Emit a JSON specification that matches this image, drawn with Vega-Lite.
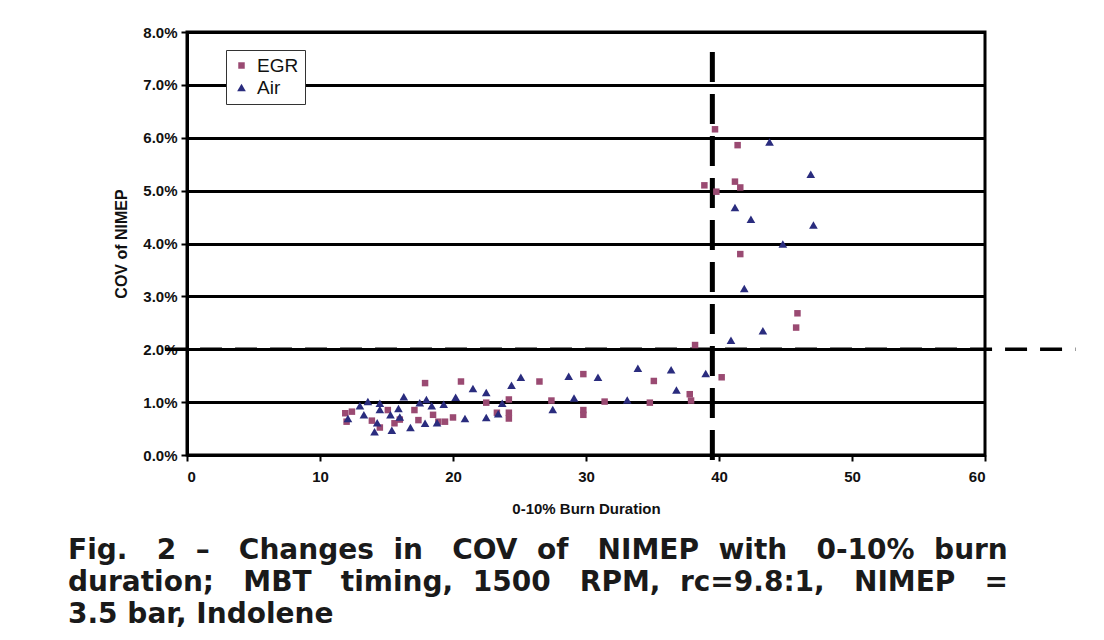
{
  "$schema": "https://vega.github.io/schema/vega-lite/v6.json",
  "autosize": "none",
  "width": 798,
  "height": 423,
  "padding": {"left": 187, "top": 32, "right": 119, "bottom": 185},
  "background": "white",
  "config": {
    "font": "Liberation Sans",
    "view": {"stroke": "black", "strokeWidth": 3},
    "axis": {"labelFont": "Liberation Sans", "titleFont": "Liberation Sans"}
  },
  "title": {
    "text": ["Fig. \u00a0\u00a02 \u00a0– \u00a0\u00a0Changes \u00a0in \u00a0\u00a0COV \u00a0of \u00a0\u00a0NIMEP \u00a0with \u00a0\u00a00-10% \u00a0burn", "duration; \u00a0\u00a0MBT \u00a0\u00a0timing, \u00a01500 \u00a0\u00a0RPM, \u00a0rc=9.8:1, \u00a0\u00a0NIMEP \u00a0\u00a0=", "3.5 bar, Indolene"],
    "orient": "bottom",
    "anchor": "start",
    "frame": "group",
    "dx": -119,
    "offset": 21,
    "font": "DejaVu Sans",
    "fontSize": 28,
    "fontWeight": "bold",
    "lineHeight": 32,
    "color": "#1a1a1a"
  },
  "datasets": {
    "pts": [
      {"series": "EGR", "dur": 11.9, "cov": 0.79},
      {"series": "EGR", "dur": 12.4, "cov": 0.82},
      {"series": "EGR", "dur": 12.0, "cov": 0.63},
      {"series": "EGR", "dur": 13.9, "cov": 0.65},
      {"series": "EGR", "dur": 14.5, "cov": 0.52},
      {"series": "EGR", "dur": 15.1, "cov": 0.85},
      {"series": "EGR", "dur": 15.6, "cov": 0.60},
      {"series": "EGR", "dur": 16.0, "cov": 0.67},
      {"series": "EGR", "dur": 17.1, "cov": 0.85},
      {"series": "EGR", "dur": 17.4, "cov": 0.66},
      {"series": "EGR", "dur": 17.9, "cov": 1.36},
      {"series": "EGR", "dur": 18.5, "cov": 0.76},
      {"series": "EGR", "dur": 18.9, "cov": 0.63},
      {"series": "EGR", "dur": 19.4, "cov": 0.63},
      {"series": "EGR", "dur": 20.0, "cov": 0.71},
      {"series": "EGR", "dur": 20.6, "cov": 1.39},
      {"series": "EGR", "dur": 22.5, "cov": 0.99},
      {"series": "EGR", "dur": 23.3, "cov": 0.80},
      {"series": "EGR", "dur": 24.2, "cov": 1.05},
      {"series": "EGR", "dur": 24.2, "cov": 0.80},
      {"series": "EGR", "dur": 24.2, "cov": 0.69},
      {"series": "EGR", "dur": 26.5, "cov": 1.39},
      {"series": "EGR", "dur": 27.4, "cov": 1.03},
      {"series": "EGR", "dur": 29.8, "cov": 1.53},
      {"series": "EGR", "dur": 29.8, "cov": 0.85},
      {"series": "EGR", "dur": 29.8, "cov": 0.76},
      {"series": "EGR", "dur": 31.4, "cov": 1.01},
      {"series": "EGR", "dur": 34.8, "cov": 0.99},
      {"series": "EGR", "dur": 35.1, "cov": 1.40},
      {"series": "EGR", "dur": 37.8, "cov": 1.15},
      {"series": "EGR", "dur": 37.9, "cov": 1.03},
      {"series": "EGR", "dur": 38.2, "cov": 2.08},
      {"series": "EGR", "dur": 40.2, "cov": 1.47},
      {"series": "EGR", "dur": 39.7, "cov": 6.16},
      {"series": "EGR", "dur": 41.4, "cov": 5.86},
      {"series": "EGR", "dur": 38.9, "cov": 5.10},
      {"series": "EGR", "dur": 39.8, "cov": 4.98},
      {"series": "EGR", "dur": 41.2, "cov": 5.17},
      {"series": "EGR", "dur": 41.6, "cov": 5.06},
      {"series": "EGR", "dur": 41.6, "cov": 3.80},
      {"series": "EGR", "dur": 45.9, "cov": 2.68},
      {"series": "EGR", "dur": 45.8, "cov": 2.41},
      {"series": "Air", "dur": 12.1, "cov": 0.69},
      {"series": "Air", "dur": 13.0, "cov": 0.93},
      {"series": "Air", "dur": 13.3, "cov": 0.76},
      {"series": "Air", "dur": 13.6, "cov": 1.01},
      {"series": "Air", "dur": 14.1, "cov": 0.44},
      {"series": "Air", "dur": 14.3, "cov": 0.61},
      {"series": "Air", "dur": 14.5, "cov": 0.98},
      {"series": "Air", "dur": 14.5, "cov": 0.86},
      {"series": "Air", "dur": 15.3, "cov": 0.76},
      {"series": "Air", "dur": 15.4, "cov": 0.47},
      {"series": "Air", "dur": 15.9, "cov": 0.88},
      {"series": "Air", "dur": 16.0, "cov": 0.72},
      {"series": "Air", "dur": 16.3, "cov": 1.10},
      {"series": "Air", "dur": 16.8, "cov": 0.52},
      {"series": "Air", "dur": 17.5, "cov": 0.99},
      {"series": "Air", "dur": 17.9, "cov": 0.60},
      {"series": "Air", "dur": 18.0, "cov": 1.05},
      {"series": "Air", "dur": 18.4, "cov": 0.93},
      {"series": "Air", "dur": 18.8, "cov": 0.61},
      {"series": "Air", "dur": 19.3, "cov": 0.96},
      {"series": "Air", "dur": 20.2, "cov": 1.09},
      {"series": "Air", "dur": 20.9, "cov": 0.69},
      {"series": "Air", "dur": 21.5, "cov": 1.26},
      {"series": "Air", "dur": 22.5, "cov": 1.18},
      {"series": "Air", "dur": 22.5, "cov": 0.71},
      {"series": "Air", "dur": 23.4, "cov": 0.78},
      {"series": "Air", "dur": 23.7, "cov": 0.98},
      {"series": "Air", "dur": 24.4, "cov": 1.32},
      {"series": "Air", "dur": 25.1, "cov": 1.47},
      {"series": "Air", "dur": 27.5, "cov": 0.86},
      {"series": "Air", "dur": 28.7, "cov": 1.49},
      {"series": "Air", "dur": 29.1, "cov": 1.08},
      {"series": "Air", "dur": 30.9, "cov": 1.47},
      {"series": "Air", "dur": 33.1, "cov": 1.04},
      {"series": "Air", "dur": 33.9, "cov": 1.64},
      {"series": "Air", "dur": 36.4, "cov": 1.61},
      {"series": "Air", "dur": 36.8, "cov": 1.23},
      {"series": "Air", "dur": 39.0, "cov": 1.54},
      {"series": "Air", "dur": 40.9, "cov": 2.17},
      {"series": "Air", "dur": 41.2, "cov": 4.68},
      {"series": "Air", "dur": 41.9, "cov": 3.15},
      {"series": "Air", "dur": 42.4, "cov": 4.46},
      {"series": "Air", "dur": 43.3, "cov": 2.35},
      {"series": "Air", "dur": 43.8, "cov": 5.92},
      {"series": "Air", "dur": 44.8, "cov": 3.99},
      {"series": "Air", "dur": 46.9, "cov": 5.31},
      {"series": "Air", "dur": 47.1, "cov": 4.35}
    ],
    "hline": [{"cov": 2.0, "from": -1.65, "to": 66.8}],
    "vline": [{"dur": 39.5, "top": 7.62, "bottom": -0.3}]
  },
  "layer": [
    {
      "data": {"name": "pts"},
      "mark": {"type": "point", "filled": true, "opacity": 1, "size": 0},
      "encoding": {
        "x": {
          "field": "dur", "type": "quantitative",
          "scale": {"domain": [0, 60], "nice": false, "zero": false},
          "axis": {
            "title": "0-10% Burn Duration",
            "values": [0, 10, 20, 30, 40, 50, 60],
            "grid": false,
            "domain": true, "domainColor": "black", "domainWidth": 3,
            "ticks": true, "tickColor": "black", "tickWidth": 2, "tickSize": 6,
            "labelFontSize": 15, "labelFontWeight": "bold", "labelColor": "#111",
            "labelPadding": 8,
            "titleFontSize": 15, "titleFontWeight": "bold", "titleColor": "#111",
            "titlePadding": 17
          }
        },
        "y": {
          "field": "cov", "type": "quantitative",
          "scale": {"domain": [0, 8], "nice": false, "zero": true},
          "axis": {
            "title": "COV of NIMEP",
            "values": [0, 1, 2, 3, 4, 5, 6, 7, 8],
            "labelExpr": "format(datum.value, '.1f') + '%'",
            "grid": true, "gridColor": "black", "gridWidth": 3, "gridOpacity": 1,
            "domain": true, "domainColor": "black", "domainWidth": 3,
            "ticks": true, "tickColor": "black", "tickWidth": 2, "tickSize": 6,
            "labelFontSize": 15, "labelFontWeight": "bold", "labelColor": "#111",
            "labelPadding": 4,
            "titleFontSize": 16, "titleFontWeight": "bold", "titleColor": "#111",
            "titlePadding": 13
          }
        }
      }
    },
    {
      "data": {"name": "hline"},
      "mark": {"type": "rule", "color": "black", "strokeWidth": 3.5, "strokeDash": [22, 13]},
      "encoding": {
        "y": {"field": "cov", "type": "quantitative"},
        "x": {"field": "from", "type": "quantitative"},
        "x2": {"field": "to"}
      }
    },
    {
      "data": {"name": "vline"},
      "mark": {"type": "rule", "color": "black", "strokeWidth": 5, "strokeDash": [30, 12]},
      "encoding": {
        "x": {"field": "dur", "type": "quantitative"},
        "y": {"field": "top", "type": "quantitative"},
        "y2": {"field": "bottom"}
      }
    },
    {
      "data": {"name": "pts"},
      "mark": {"type": "point", "filled": true, "opacity": 1},
      "encoding": {
        "x": {"field": "dur", "type": "quantitative"},
        "y": {"field": "cov", "type": "quantitative"},
        "size": {
          "field": "series", "type": "nominal",
          "scale": {"domain": ["EGR", "Air"], "range": [42, 75]},
          "legend": null
        },
        "color": {
          "field": "series", "type": "nominal",
          "scale": {"domain": ["EGR", "Air"], "range": ["#9a4a72", "#2a2c7e"]},
          "legend": {
            "title": null,
            "orient": "none",
            "legendX": 39,
            "legendY": 18,
            "fillColor": "white",
            "strokeColor": "#333",
            "padding": 6,
            "rowPadding": 2,
            "labelFontSize": 19,
            "labelFont": "Liberation Sans",
            "labelColor": "#111",
            "labelOffset": 6,
            "symbolSize": 36,
            "symbolOpacity": 1
          }
        },
        "shape": {
          "field": "series", "type": "nominal",
          "scale": {"domain": ["EGR", "Air"], "range": ["square", "triangle-up"]}
        }
      }
    }
  ]
}
